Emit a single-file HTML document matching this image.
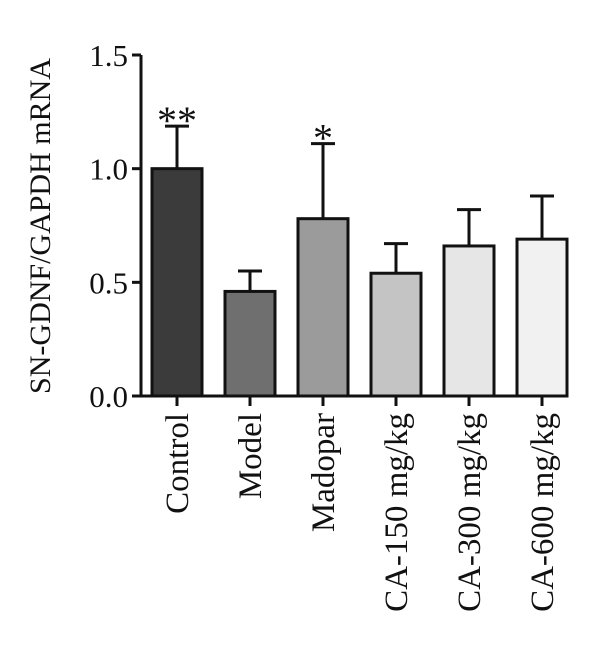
<!DOCTYPE html>
<html><head><meta charset="utf-8"><style>html,body{margin:0;background:#fff}svg{display:block}</style></head>
<body>
<svg id="chart" width="600" height="661" xmlns="http://www.w3.org/2000/svg" font-family="Liberation Serif, serif"></svg>
<script>
const categories=["Control","Model","Madopar","CA-150 mg/kg","CA-300 mg/kg","CA-600 mg/kg"];
const values=[1.0,0.46,0.78,0.54,0.66,0.69];
const errors=[0.187,0.09,0.33,0.13,0.16,0.19];
const marks=["**","","*","","",""];
const colors=["#3b3b3b","#6f6f6f","#9b9b9b","#c4c4c4","#e6e6e6","#f1f1f1"];
const yTicks=[0,0.5,1.0,1.5];
const yTickLabels=["0.0","0.5","1.0","1.5"];
const NS="http://www.w3.org/2000/svg";
const svg=document.getElementById('chart');
const y0=396,yTop=55,yMax=1.5,axisX=141,x0=177,step=73,bw=50;
const y=v=>y0-(y0-yTop)*v/yMax;
const x=i=>x0+i*step;
function el(t,a){const e=document.createElementNS(NS,t);for(const k in a)e.setAttribute(k,a[k]);svg.appendChild(e);return e;}
values.forEach((v,i)=>{
  const cx=x(i);
  const top=y(v+errors[i]);
  const eb=el('line',{x1:cx,x2:cx,y1:y(v),y2:top,stroke:'#111','stroke-width':3});
  
  
  const cap=el('line',{x1:cx-12,x2:cx+12,y1:top,y2:top,stroke:'#111','stroke-width':3});
  
  
  const r=el('rect',{x:cx-bw/2,y:y(v),width:bw,height:y0-y(v),fill:colors[i],stroke:'#111','stroke-width':3});
  
  
  if(marks[i]){
    const m=el('text',{x:cx,y:top+8,'text-anchor':'middle','font-size':40,fill:'#111'});
    m.textContent=marks[i];
    
    
  }
  const tk=el('line',{x1:cx,x2:cx,y1:y0,y2:y0+10,stroke:'#111','stroke-width':3});
  
  
  const lb=el('text',{transform:`translate(${cx+11},413) rotate(-90)`,'text-anchor':'end','font-size':33,fill:'#111'});
  lb.textContent=categories[i];
  
  
});
const ya=el('line',{x1:axisX,x2:axisX,y1:yTop,y2:y0+1.5,stroke:'#111','stroke-width':3});


const xa=el('line',{x1:132,x2:560,y1:y0,y2:y0,stroke:'#111','stroke-width':3});


yTicks.forEach((t,i)=>{
  const l=el('line',{x1:132,x2:axisX,y1:y(t),y2:y(t),stroke:'#111','stroke-width':3});
  
  
  const tx=el('text',{x:128,y:y(t)+11,'text-anchor':'end','font-size':31,fill:'#111'});
  tx.textContent=yTickLabels[i];
  
  
});
const yt=el('text',{transform:'translate(50,226) rotate(-90)','text-anchor':'middle','font-size':30,fill:'#111'});
yt.textContent='SN-GDNF/GAPDH mRNA';


</script>
</body></html>
